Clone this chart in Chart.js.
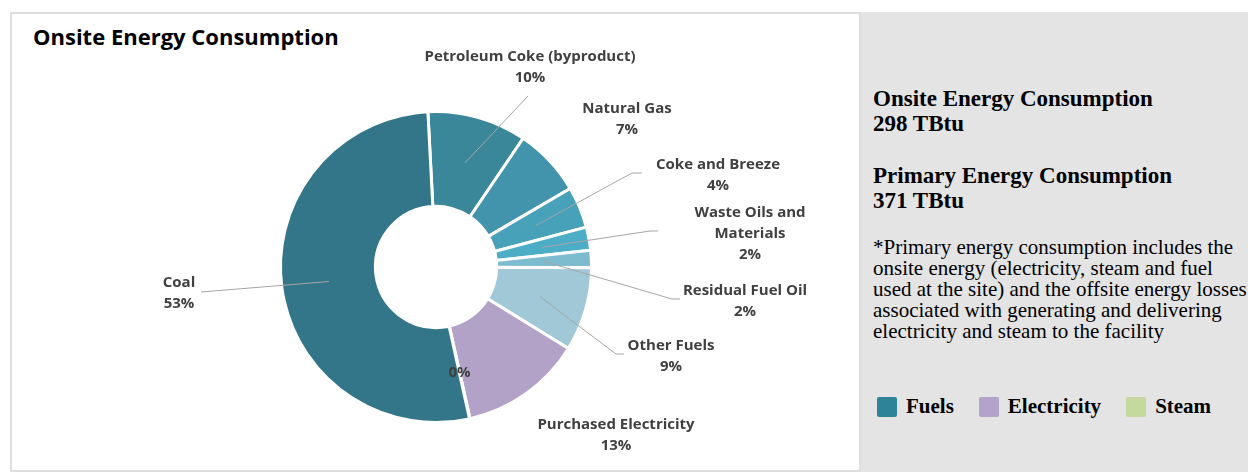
<!DOCTYPE html>
<html>
<head>
<meta charset="utf-8">
<script src="https://cdn.jsdelivr.net/npm/chart.js@4.4.0/dist/chart.umd.min.js"></script>
<style>
  html, body { margin: 0; padding: 0; width: 1248px; height: 472px; overflow: hidden; background: #fff; }
  #card { position: absolute; left: 10px; top: 12px; width: 851px; height: 460px; box-sizing: border-box;
          border: 2px solid #dedede; background: #fff; }
  #title { position: absolute; left: 33px; top: 21px; font: bold 22px "Open Sans", sans-serif; color: #000; white-space: nowrap; }
  #chart { position: absolute; left: 13px; top: 13px; }
  #side { position: absolute; left: 861px; top: 12px; right: 0; bottom: 0; background: #e4e4e4;
          font-family: "Liberation Serif", "Times New Roman", serif; color: #000; white-space: nowrap; }
  .head { position: absolute; left: 12px; font-weight: bold; font-size: 23px; line-height: 25px; }
  #note { position: absolute; left: 12px; top: 225px; font-size: 21px; line-height: 21px; }
  #legend { position: absolute; left: 16px; top: 382px; display: flex; align-items: center; font-weight: bold; font-size: 21px; }
  #legend .item { display: flex; align-items: center; margin-right: 25px; }
  #legend .sw { width: 20px; height: 20px; border-radius: 2px; margin-right: 9px; }
</style>
</head>
<body>
<div id="card"></div>
<div id="title">Onsite Energy Consumption</div>
<canvas id="chart" width="846" height="457"></canvas>
<div id="side">
  <div class="head" style="top:74px">Onsite Energy Consumption<br>298 TBtu</div>
  <div class="head" style="top:151px">Primary Energy Consumption<br>371 TBtu</div>
  <div id="note">*Primary energy consumption includes the<br>onsite energy (electricity, steam and fuel<br>used at the site) and the offsite energy losses<br>associated with generating and delivering<br>electricity and steam to the facility</div>
  <div id="legend"></div>
</div>
<script>
// slices, clockwise from the top
const categories = ['Petroleum Coke (byproduct)', 'Natural Gas', 'Coke and Breeze', 'Waste Oils and Materials',
  'Residual Fuel Oil', 'Other Fuels', 'Purchased Electricity', 'Steam', 'Coal']
const shares = [10.3, 7.1, 4.3, 2.4, 1.8, 8.7, 12.7, 0.05, 52.6]
const sliceColors = ['#3a879a', '#4194ab', '#47a1b8', '#4baec6', '#7dbbcf', '#a0c8d7', '#b3a2c8', '#c5d99c', '#337689']

// legend groups
const groups = ['Fuels', 'Electricity', 'Steam']
const groupColors = ['#2e8399', '#b3a2c9', '#c5d99c']

// where each label sits, relative to the centre of the ring
const labelSpots = [
  { dx: 94, dy: -200, line: [[92, -171]] },
  { dx: 191, dy: -148 },
  { dx: 282, dy: -92, line: [[196, -94], [206, -94]] },
  { dx: 314, dy: -33, wrap: 135, line: [[214, -36], [222, -36]] },
  { dx: 309, dy: 34, line: [[236, 32], [244, 32]] },
  { dx: 235, dy: 89, line: [[180, 87], [188, 87]] },
  { dx: 180, dy: 168 },
  { inside: true },
  { dx: -257, dy: 26, line: [[-235, 25]] }
]

document.getElementById('legend').innerHTML = groups.map((g, i) =>
  `<div class="item"><div class="sw" style="background:${groupColors[i]}"></div>${g}</div>`).join('')

const wrapText = (ctx, text, width) => {
  if (!width) return [text]
  const out = []
  let cur = ''
  text.split(' ').forEach(w => {
    const t = cur ? cur + ' ' + w : w
    if (cur && ctx.measureText(t).width > width) { out.push(cur); cur = w } else cur = t
  })
  out.push(cur)
  return out
}

const sliceLabels = {
  id: 'sliceLabels',
  afterDatasetsDraw(chart) {
    const ctx = chart.ctx
    const total = shares.reduce((a, b) => a + b, 0)
    const arcs = chart.getDatasetMeta(0).data
    ctx.save()
    ctx.font = 'bold 15px "Open Sans", sans-serif'
    ctx.textAlign = 'center'
    ctx.textBaseline = 'middle'
    arcs.forEach((arc, i) => {
      const p = arc.getProps(['x', 'y', 'startAngle', 'endAngle', 'innerRadius', 'outerRadius'], true)
      const mid = (p.startAngle + p.endAngle) / 2
      const rMid = (p.innerRadius + p.outerRadius) / 2
      const ax = p.x + Math.cos(mid) * rMid
      const ay = p.y + Math.sin(mid) * rMid
      const pct = Math.round(shares[i] / total * 100) + '%'
      const spot = labelSpots[i]
      ctx.fillStyle = '#404040'
      if (spot.inside) {
        ctx.fillText(pct, ax, ay)
        return
      }
      if (spot.line) {
        ctx.strokeStyle = '#a6a6a6'
        ctx.lineWidth = 1
        ctx.beginPath()
        ctx.moveTo(ax, ay)
        spot.line.forEach(pt => ctx.lineTo(p.x + pt[0], p.y + pt[1]))
        ctx.stroke()
      }
      const lines = wrapText(ctx, categories[i], spot.wrap).concat([pct])
      const y0 = p.y + spot.dy - (lines.length - 1) * 21 / 2
      lines.forEach((t, k) => ctx.fillText(t, p.x + spot.dx, y0 + k * 21))
    })
    ctx.restore()
  }
}

new Chart(document.getElementById('chart'), {
  type: 'doughnut',
  data: {
    labels: categories,
    datasets: [{
      data: shares,
      backgroundColor: sliceColors,
      borderColor: '#ffffff',
      borderWidth: 3
    }]
  },
  options: {
    responsive: false,
    animation: false,
    rotation: -3,
    cutout: '39%',
    layout: { padding: { top: 97, bottom: 46, left: 0, right: 0 } },
    plugins: {
      legend: { display: false },
      tooltip: { enabled: false }
    }
  },
  plugins: [sliceLabels]
});
</script>
</body>
</html>
